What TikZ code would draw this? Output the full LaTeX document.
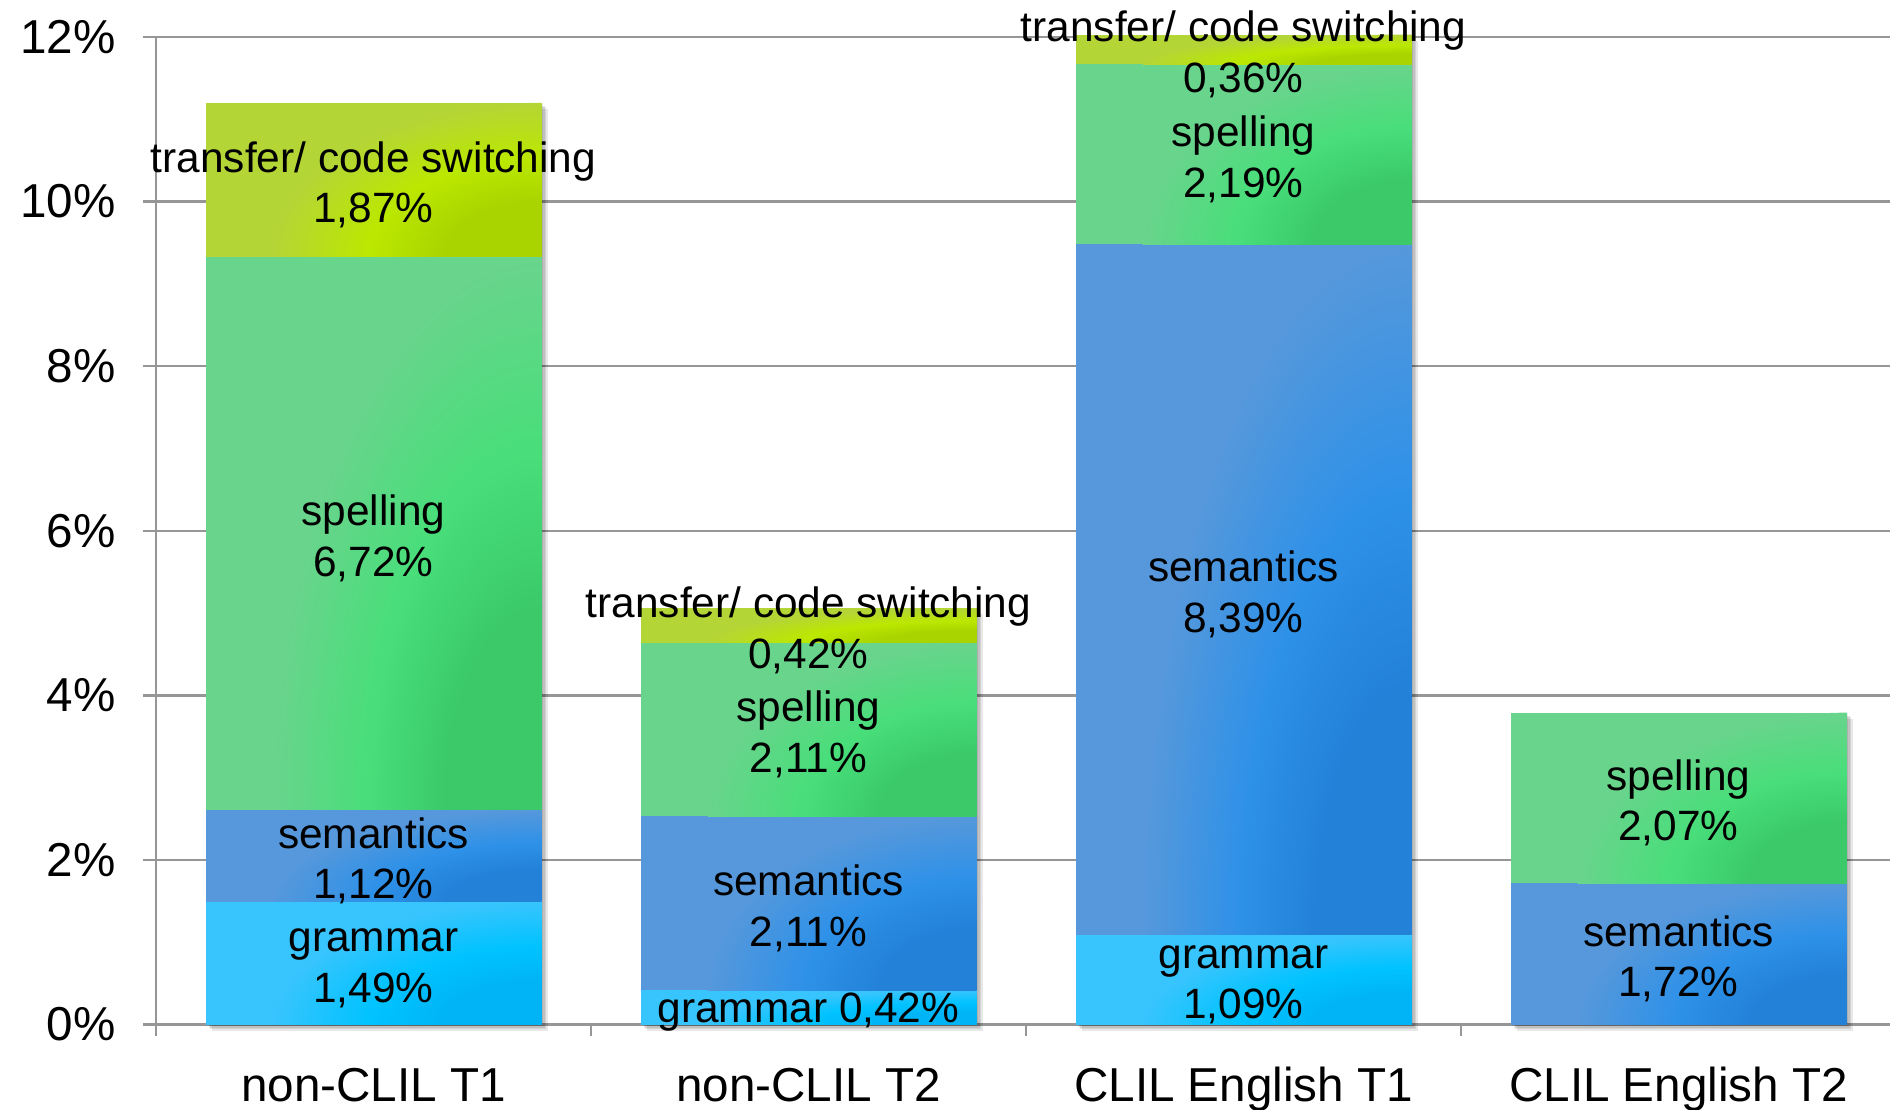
\documentclass[tikz,border=0pt]{standalone}
\usepackage{fontspec}
\setmainfont{Liberation Sans}

% series colours: flat base, bright ring, dark corner
\definecolor{gramBase}{RGB}{56,196,253}
\definecolor{gramBright}{RGB}{0,195,255}
\definecolor{gramDark}{RGB}{0,180,245}
\definecolor{semBase}{RGB}{86,152,219}
\definecolor{semBright}{RGB}{46,145,232}
\definecolor{semDark}{RGB}{35,129,216}
\definecolor{spelBase}{RGB}{105,212,140}
\definecolor{spelBright}{RGB}{72,222,122}
\definecolor{spelDark}{RGB}{59,201,106}
\definecolor{tranBase}{RGB}{180,213,54}
\definecolor{tranBright}{RGB}{187,232,0}
\definecolor{tranDark}{RGB}{169,212,0}
\definecolor{axisgray}{RGB}{150,150,150}

% radial glow from the lower right corner of each segment
\pgfdeclareradialshading{gramShade}{\pgfpoint{0bp}{0bp}}{color(0bp)=(gramDark); color(9bp)=(gramDark); color(16bp)=(gramBright); color(25bp)=(gramBase); color(50bp)=(gramBase)}
\pgfdeclareradialshading{semShade}{\pgfpoint{0bp}{0bp}}{color(0bp)=(semDark); color(9bp)=(semDark); color(16bp)=(semBright); color(25bp)=(semBase); color(50bp)=(semBase)}
\pgfdeclareradialshading{spelShade}{\pgfpoint{0bp}{0bp}}{color(0bp)=(spelDark); color(9bp)=(spelDark); color(16bp)=(spelBright); color(25bp)=(spelBase); color(50bp)=(spelBase)}
\pgfdeclareradialshading{tranShade}{\pgfpoint{0bp}{0bp}}{color(0bp)=(tranDark); color(9bp)=(tranDark); color(16bp)=(tranBright); color(25bp)=(tranBase); color(50bp)=(tranBase)}

% vertical position of a percentage value
\newcommand\yv[1]{(84.4+82.3*(#1))}

% one stacked segment: #1 bar centre, #2 lower value, #3 upper value, #4 series
\newcommand\seg[4]{%
  \fill[#4Base] ({#1-168},{\yv{#2}}) rectangle ({#1+168},{\yv{#3}});
  \begin{scope}
    \clip ({#1-168},{\yv{#2}}) rectangle ({#1+168},{\yv{#3}});
    \shade[shading=#4Shade] ({#1+168},{\yv{#2}}) ellipse [x radius=0.8*336, y radius={82.3*(#3-#2)}];
  \end{scope}}

% soft shadow behind a whole bar: #1 centre, #2 total value
\newcommand\barshadow[2]{%
  \foreach \d in {1.5,3,4.5,6}
    \fill[black,opacity=0.09] ({#1-168+\d},{\yv{0}-\d}) rectangle ({#1+168+\d},{\yv{#2}-\d});}

\begin{document}
\begin{tikzpicture}[x=0.5pt,y=0.5pt,
  gridline/.style={draw=axisgray, line width=1.2pt},
  barlabel/.style={font=\fontsize{21.2}{25.3}\selectfont, align=center, inner sep=0pt, text=black, yshift=-2.5pt},
  ticklabel/.style={font=\fontsize{23.8}{28}\selectfont, anchor=east, inner sep=0pt},
  catlabel/.style={font=\fontsize{23.8}{28}\selectfont, anchor=base, inner sep=0pt}]

\useasboundingbox (0,0) rectangle (1890,1109);

% grid, value axis and category ticks
\foreach \v in {0,2,...,12}
  \draw[gridline] (143,{\yv{\v}}) -- (1890,{\yv{\v}});
\draw[gridline] (156,{\yv{12}}) -- (156,73);
\foreach \x in {591,1026,1461}
  \draw[gridline] (\x,{\yv{0}}) -- (\x,73);

% value axis labels
\foreach \v in {0,2,...,12}
  \node[ticklabel] (t\v) at (116,{\yv{\v}}) {\v\%};

% shadows
\barshadow{373.5}{11.20}
\barshadow{808.5}{5.06}
\barshadow{1243.5}{12.03}
\barshadow{1678.5}{3.79}

% non-CLIL T1
\seg{373.5}{0}{1.49}{gram}
\seg{373.5}{1.49}{2.61}{sem}
\seg{373.5}{2.61}{9.33}{spel}
\seg{373.5}{9.33}{11.20}{tran}
% non-CLIL T2
\seg{808.5}{0}{0.42}{gram}
\seg{808.5}{0.42}{2.53}{sem}
\seg{808.5}{2.53}{4.64}{spel}
\seg{808.5}{4.64}{5.06}{tran}
% CLIL English T1
\seg{1243.5}{0}{1.09}{gram}
\seg{1243.5}{1.09}{9.48}{sem}
\seg{1243.5}{9.48}{11.67}{spel}
\seg{1243.5}{11.67}{12.03}{tran}
% CLIL English T2
\seg{1678.5}{0}{1.72}{sem}
\seg{1678.5}{1.72}{3.79}{spel}

% segment labels
\node[barlabel] (a1) at (373.5,{\yv{0.745}}) {grammar\\1,49\%};
\node[barlabel] (a2) at (373.5,{\yv{2.05}}) {semantics\\1,12\%};
\node[barlabel] (a3) at (373.5,{\yv{5.97}}) {spelling\\6,72\%};
\node[barlabel] (a4) at (373.5,{\yv{10.265}}) {transfer/ code switching\\1,87\%};

\node[barlabel] (b1) at (808.5,{\yv{0.21}}) {grammar 0,42\%};
\node[barlabel] (b2) at (808.5,{\yv{1.475}}) {semantics\\2,11\%};
\node[barlabel] (b3) at (808.5,{\yv{3.585}}) {spelling\\2,11\%};
\node[barlabel] (b4) at (808.5,{\yv{4.85}}) {transfer/ code switching\\0,42\%};

\node[barlabel] (c1) at (1243.5,{\yv{0.545}}) {grammar\\1,09\%};
\node[barlabel] (c2) at (1243.5,{\yv{5.285}}) {semantics\\8,39\%};
\node[barlabel] (c3) at (1243.5,{\yv{10.575}}) {spelling\\2,19\%};
\node[barlabel] (c4) at (1243.5,{\yv{11.85}}) {transfer/ code switching\\0,36\%};

\node[barlabel] (d1) at (1678.5,{\yv{0.86}}) {semantics\\1,72\%};
\node[barlabel] (d2) at (1678.5,{\yv{2.755}}) {spelling\\2,07\%};

% category labels
\node[catlabel] (k1) at (373.5,8) {non-CLIL T1};
\node[catlabel] (k2) at (808.5,8) {non-CLIL T2};
\node[catlabel] (k3) at (1243.5,8) {CLIL English T1};
\node[catlabel] (k4) at (1678.5,8) {CLIL English T2};
\end{tikzpicture}
\end{document}
